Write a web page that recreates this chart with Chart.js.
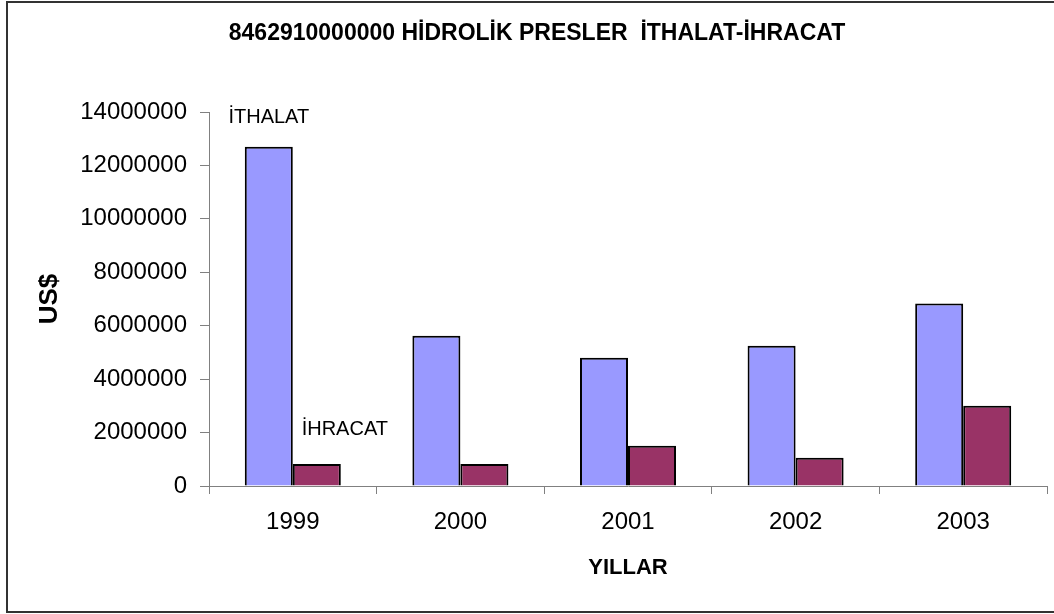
<!DOCTYPE html>
<html>
<head>
<meta charset="utf-8">
<title>Hidrolik Presler</title>
<script src="https://cdn.jsdelivr.net/npm/chart.js@4/dist/chart.umd.min.js"></script>
<style>
  body { margin: 0; background: #fff; }
  canvas { display: block; }
</style>
</head>
<body>
<canvas id="chart" width="1054" height="614"></canvas>
<script>
// data
const years = ['1999', '2000', '2001', '2002', '2003'];
const ithalat = [12700000, 5620000, 4800000, 5250000, 6830000];
const ihracat = [820000, 820000, 1510000, 1060000, 3000000];
const yTickLabels = ['0', '2000000', '4000000', '6000000', '8000000', '10000000', '12000000', '14000000'];
const seriesNames = ['İTHALAT', 'İHRACAT'];
const labelValues = [13800000, 2100000];

const FONT = "'Liberation Sans', Arial, sans-serif";
const axisGray = '#808080';

// outer frame like the original sheet chart
const framePlugin = {
    id: 'frame',
    beforeDraw(chart) {
        const ctx = chart.ctx;
        ctx.save();
        ctx.fillStyle = '#fff';
        ctx.fillRect(0, 0, chart.width, chart.height);
        ctx.strokeStyle = '#333';
        ctx.lineWidth = 2;
        ctx.strokeRect(7, 2, chart.width + 10, 610);
        ctx.restore();
    }
};

// series names written next to the first group of bars
const seriesLabelPlugin = {
    id: 'seriesLabels',
    afterDatasetsDraw(chart) {
        const ctx = chart.ctx;
        const y = chart.scales.y;
        ctx.save();
        ctx.font = '20px ' + FONT;
        ctx.fillStyle = '#000';
        ctx.textBaseline = 'middle';
        ctx.textAlign = 'center';
        const b0 = chart.getDatasetMeta(0).data[0];
        ctx.fillText(seriesNames[0], b0.x, y.getPixelForValue(labelValues[0]));
        const b1 = chart.getDatasetMeta(1).data[0];
        ctx.fillText(seriesNames[1], b1.x + 28, y.getPixelForValue(labelValues[1]));
        ctx.restore();
    }
};

new Chart(document.getElementById('chart'), {
    type: 'bar',
    data: {
        labels: years,
        datasets: [
            { label: seriesNames[0], data: ithalat, backgroundColor: '#9999FF', borderColor: '#000', borderWidth: 2 },
            { label: seriesNames[1], data: ihracat, backgroundColor: '#993366', borderColor: '#000', borderWidth: 2 }
        ]
    },
    options: {
        responsive: false,
        animation: false,
        devicePixelRatio: 1,
        layout: { padding: { left: 27, right: 7, top: 0, bottom: 0 } },
        datasets: { bar: { categoryPercentage: 0.573, barPercentage: 1.0 } },
        plugins: {
            legend: { display: false },
            tooltip: { enabled: false },
            title: {
                display: true,
                text: '8462910000000 HİDROLİK PRESLER  İTHALAT-İHRACAT',
                color: '#000',
                font: { family: FONT, size: 23, weight: 'bold' },
                padding: { top: 20, bottom: 64.4 }
            }
        },
        scales: {
            x: {
                afterFit(scale) { scale.height = 128; },
                grid: { drawOnChartArea: false, drawTicks: true, tickLength: 8, color: axisGray, offset: true },
                border: { color: axisGray, width: 1 },
                ticks: { color: '#000', padding: 14, font: { family: FONT, size: 24 } },
                title: {
                    display: true, text: 'YILLAR', color: '#000',
                    font: { family: FONT, size: 22, weight: 'bold' },
                    padding: { top: 0, bottom: 33 }
                }
            },
            y: {
                min: 0,
                max: 14000000,
                afterFit(scale) { scale.width = 182; },
                grid: { drawOnChartArea: false, drawTicks: true, tickLength: 9, color: axisGray },
                border: { color: axisGray, width: 1 },
                ticks: {
                    stepSize: 2000000,
                    color: '#000',
                    padding: 13,
                    font: { family: FONT, size: 24 },
                    callback: (v, i) => yTickLabels[i]
                },
                title: {
                    display: true, text: 'US$', color: '#000',
                    font: { family: FONT, size: 26, weight: 'bold' },
                    padding: { top: 7, bottom: 0 }
                }
            }
        }
    },
    plugins: [framePlugin, seriesLabelPlugin]
});
</script>
</body>
</html>
